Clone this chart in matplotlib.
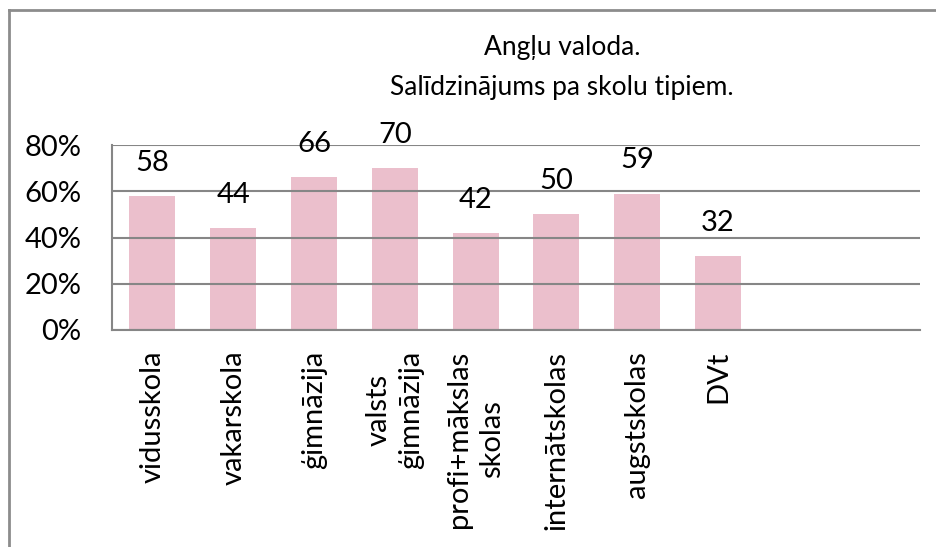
import matplotlib
matplotlib.use('Agg')
import matplotlib.pyplot as plt
from matplotlib.lines import Line2D
from matplotlib.ticker import PercentFormatter

# dati
title_lines = ['Angļu valoda.', 'Salīdzinājums pa skolu tipiem.']
categories = ['vidusskola', 'vakarskola', 'ģimnāzija', 'valsts\nģimnāzija',
              'profi+mākslas\nskolas', 'internātskolas', 'augstskolas', 'DVt']
values = [58, 44, 66, 70, 42, 50, 59, 32]
yticks = [0, 20, 40, 60, 80]
n_slots = 10

plt.rcParams['font.family'] = ['Lato', 'DejaVu Sans']

fig = plt.figure(figsize=(9.36, 5.47), dpi=100)
ax = fig.add_axes([112/936, 1 - 330/547, 808/936, 185/547])

x = list(range(len(categories)))
bars = ax.bar(x, values, width=0.57, color='#ebbfcc', zorder=1)
for b, v in zip(bars, values):
    ax.annotate(str(v), (b.get_x() + b.get_width()/2, v), xytext=(0, 24),
                textcoords='offset points', ha='center', va='center', fontsize=21)

ax.set_xlim(-0.5, n_slots - 0.5)
ax.set_ylim(0, 80)
ax.set_yticks(yticks)
ax.yaxis.set_major_formatter(PercentFormatter(decimals=0))
ax.set_xticks(x)
ax.set_xticklabels(categories, rotation=90, ha='center', va='top',
                   multialignment='center', linespacing=1.3)
ax.tick_params(axis='both', length=0, labelsize=21)
ax.tick_params(axis='x', pad=15)
ax.tick_params(axis='y', pad=22)
ax.grid(axis='y', color='#868686', linewidth=1.5, zorder=2)
ax.set_axisbelow(False)
for s in ['top', 'right']:
    ax.spines[s].set_visible(False)
for s in ['left', 'bottom']:
    ax.spines[s].set_color('#868686')
    ax.spines[s].set_linewidth(1.5)

fig.text(562/936, 1 - 47/547, title_lines[0], ha='center', va='center', fontsize=19)
fig.text(562/936, 1 - 87/547, title_lines[1], ha='center', va='center', fontsize=19)

# ramis
fig.add_artist(Line2D([9/936, 9/936], [0, 1 - 10/547], color='#8c8c8c', linewidth=2))
fig.add_artist(Line2D([9/936, 1], [1 - 10/547, 1 - 10/547], color='#8c8c8c', linewidth=2))

fig.savefig('out.png', dpi=100)
